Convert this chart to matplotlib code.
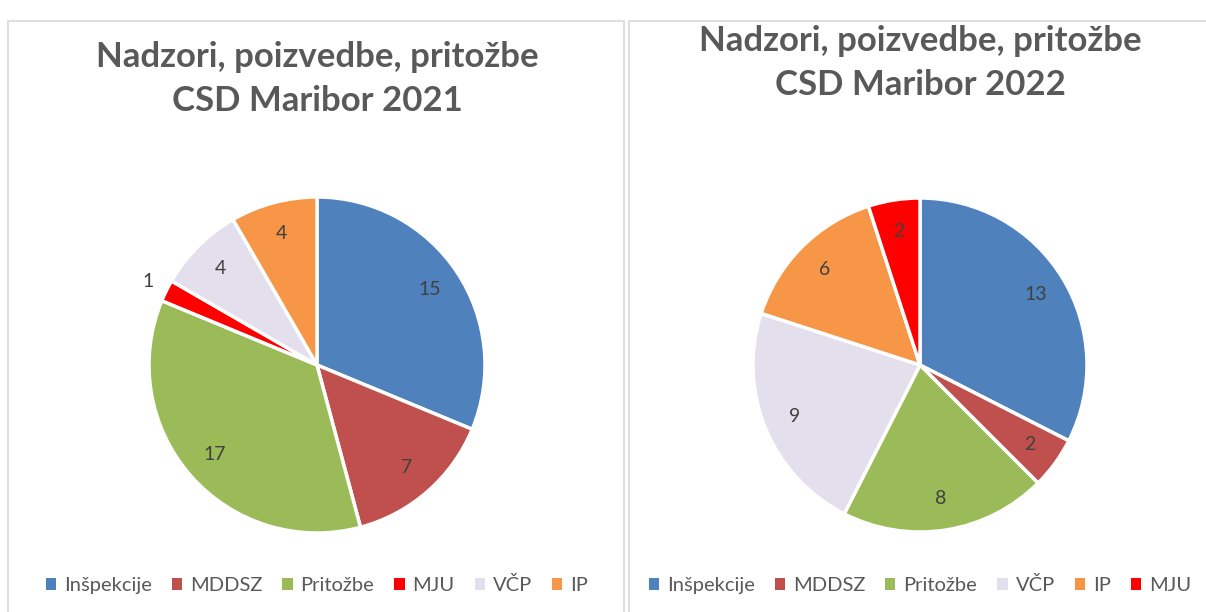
import numpy as np
import matplotlib.pyplot as plt
from matplotlib.patches import Rectangle, Patch

# data
labels_2021 = ["Inšpekcije", "MDDSZ", "Pritožbe", "MJU", "VČP", "IP"]
values_2021 = [15, 7, 17, 1, 4, 4]
labels_2022 = ["Inšpekcije", "MDDSZ", "Pritožbe", "VČP", "IP", "MJU"]
values_2022 = [13, 2, 8, 9, 6, 2]
titles = ["Nadzori, poizvedbe, pritožbe\nCSD Maribor 2021",
          "Nadzori, poizvedbe, pritožbe\nCSD Maribor 2022"]

colors = {"Inšpekcije": "#4F81BD", "MDDSZ": "#C0504D", "Pritožbe": "#9BBB59",
          "MJU": "#FF0000", "VČP": "#E4DFEC", "IP": "#F79646"}
outside = {"MJU_2021"}

plt.rcParams['font.family'] = ['Lato', 'DejaVu Sans']
W, H = 1206, 612
fig = plt.figure(figsize=(W / 100, H / 100), dpi=100)


def px(x, y):
    return x / W, 1 - y / H


# panel borders
for x0, x1 in [(8, 624), (629, 1210)]:
    fig.patches.append(Rectangle(px(x0, 625), (x1 - x0) / W, (625 - 21) / H,
                                 transform=fig.transFigure, fill=False,
                                 edgecolor="#D9D9D9", linewidth=1.2))


def draw_pie(cx, cy, r, labels, values, year, title_y, legend_y):
    ax = fig.add_axes([(cx - r) / W, 1 - (cy + r) / H, 2 * r / W, 2 * r / H])
    wedges, _ = ax.pie(values, colors=[colors[l] for l in labels], startangle=90,
                       counterclock=False, radius=1,
                       wedgeprops=dict(edgecolor="white", linewidth=2.5))
    ax.set_xlim(-1, 1)
    ax.set_ylim(-1, 1)
    ax.axis("off")
    for w, lab, v in zip(wedges, labels, values):
        ang = np.deg2rad((w.theta1 + w.theta2) / 2)
        d = 1.12 if f"{lab}_{year}" in outside else 0.81
        ax.text(d * np.cos(ang), d * np.sin(ang), str(v), ha="center", va="center",
                fontsize=14, color="#404040", clip_on=False)
    tx, ty = px(cx, title_y)
    fig.text(tx, ty, titles[0] if year == 2021 else titles[1], ha="center", va="center",
             fontsize=25, fontweight="bold", color="#595959", linespacing=1.45)
    handles = [Patch(facecolor=colors[l], edgecolor="none") for l in labels]
    lx, ly = px(cx, legend_y)
    fig.legend(handles, labels, loc="center", bbox_to_anchor=(lx, ly), ncol=len(labels),
               frameon=False, fontsize=14.5, labelcolor="#595959", handlelength=0.5,
               handleheight=0.5, handletextpad=0.4, columnspacing=1.0)


draw_pie(317, 365, 168, labels_2021, values_2021, 2021, 79, 585)
draw_pie(920, 365, 167, labels_2022, values_2022, 2022, 63, 585)

fig.savefig("out.png", dpi=100, facecolor="white")
